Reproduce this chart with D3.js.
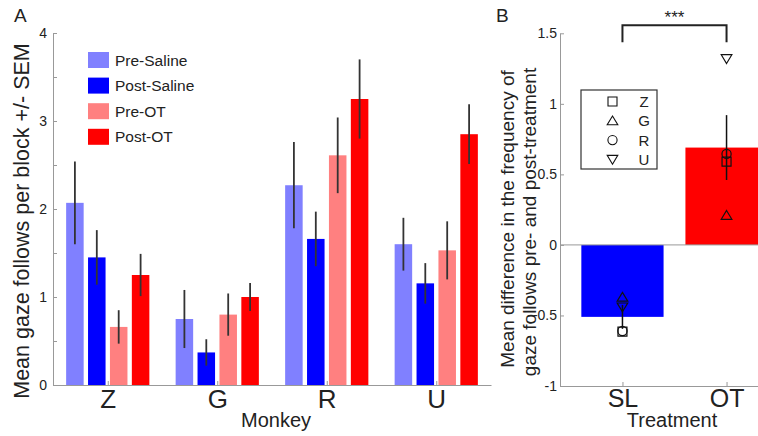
<!DOCTYPE html>
<html>
<head>
<meta charset="utf-8">
<script src="https://cdn.jsdelivr.net/npm/d3@7"></script>
<style>
  body { margin: 0; background: #fff; }
  svg { display: block; font-family: "Liberation Sans", Arial, sans-serif; }
  .axis path, .axis line { stroke: #999; }
  .axis text { fill: #222; }
</style>
</head>
<body>
<div id="chart"></div>
<script>
// Panel A data
const monkeys = ["Z", "G", "R", "U"];
const conditions = ["Pre-Saline", "Post-Saline", "Pre-OT", "Post-OT"];
const colors = ["#8080ff", "#0000ff", "#ff8080", "#ff0000"];
const preSaline = [2.07, 0.75, 2.27, 1.60];
const preSalineSem = [0.47, 0.33, 0.49, 0.30];
const postSaline = [1.45, 0.37, 1.66, 1.155];
const postSalineSem = [0.31, 0.15, 0.31, 0.23];
const preOT = [0.66, 0.80, 2.61, 1.53];
const preOTSem = [0.19, 0.24, 0.43, 0.33];
const postOT = [1.25, 1.00, 3.25, 2.85];
const postOTSem = [0.24, 0.16, 0.45, 0.34];
const yTicksA = [0, 0.5, 1, 1.5, 2, 2.5, 3, 3.5, 4];

// Panel B data
const treatments = ["SL", "OT"];
const diffMean = [-0.51, 0.69];
const diffSem = [0.085, 0.23];
const diffZ = [-0.615, 0.59];
const diffG = [-0.37, 0.21];
const diffR = [-0.61, 0.645];
const diffU = [-0.44, 1.32];
const yTicksB = [-1, -0.5, 0, 0.5, 1, 1.5];

const W = 758, H = 436;
const svg = d3.select("#chart").append("svg")
    .attr("width", W).attr("height", H);

// ---------- Panel A ----------
const xA = d3.scaleLinear().domain([0.5, 4.5]).range([53, 491]);
const yA = d3.scaleLinear().domain([0, 4]).range([385, 33]);
const seriesA = [
    { vals: preSaline, sem: preSalineSem },
    { vals: postSaline, sem: postSalineSem },
    { vals: preOT, sem: preOTSem },
    { vals: postOT, sem: postOTSem }
];
const offset = [-0.3, -0.1, 0.1, 0.3].map(d => d * 1.0);
const step = 0.2, barW = 0.16;

const barsA = [];
seriesA.forEach((s, si) => {
    s.vals.forEach((v, mi) => {
        barsA.push({ m: mi + 1 + (si - 1.5) * step, v: v, e: s.sem[mi], c: colors[si] });
    });
});

const gA = svg.append("g");

gA.selectAll("rect.bar").data(barsA).enter().append("rect")
    .attr("class", "bar")
    .attr("x", d => xA(d.m - barW / 2))
    .attr("width", xA(barW) - xA(0))
    .attr("y", d => yA(d.v))
    .attr("height", d => yA(0) - yA(d.v))
    .attr("fill", d => d.c);

gA.selectAll("line.err").data(barsA).enter().append("line")
    .attr("class", "err")
    .attr("x1", d => xA(d.m)).attr("x2", d => xA(d.m))
    .attr("y1", d => yA(d.v + d.e)).attr("y2", d => yA(d.v - d.e))
    .attr("stroke", "#333").attr("stroke-width", 1.8);

// axes A
gA.append("g").attr("class", "axis")
    .attr("transform", `translate(${xA.range()[0]},0)`)
    .call(d3.axisLeft(yA).tickValues(yTicksA).tickSizeInner(-4).tickSizeOuter(0).tickPadding(6)
        .tickFormat(d => Number.isInteger(d) ? String(d) : ""))
    .call(g => g.selectAll("text").attr("font-size", 14).attr("font-family", null));

gA.append("g").attr("class", "axis")
    .attr("transform", `translate(0,${yA(0)})`)
    .call(d3.axisBottom(xA).tickValues([1, 2, 3, 4]).tickSizeInner(-4).tickSizeOuter(0).tickPadding(5)
        .tickFormat((d, i) => monkeys[i]))
    .call(g => g.selectAll("text").attr("font-size", 26).attr("font-family", null));

gA.append("text")
    .attr("x", (xA.range()[0] + xA.range()[1]) / 2 + 4).attr("y", 427)
    .attr("text-anchor", "middle").attr("font-size", 20).attr("fill", "#222")
    .text("Monkey");

gA.append("text")
    .attr("transform", "rotate(-90)")
    .attr("x", -221).attr("y", 29)
    .attr("text-anchor", "middle").attr("font-size", 21.5).attr("fill", "#222")
    .text("Mean gaze follows per block +/- SEM");

gA.append("text").attr("x", 14).attr("y", 22).attr("font-size", 19).attr("fill", "#222").text("A");

// legend A
const legA = gA.append("g");
conditions.forEach((c, i) => {
    const cy = 60 + i * 25.6;
    legA.append("rect").attr("x", 88).attr("y", cy - 8).attr("width", 21).attr("height", 16).attr("fill", colors[i]);
    legA.append("text").attr("x", 115).attr("y", cy).attr("dy", "0.36em")
        .attr("font-size", 15.5).attr("fill", "#222").text(c);
});

// ---------- Panel B ----------
const xB = d3.scaleLinear().domain([0.4, 2.6]).range([560, 789]);
const yB = d3.scaleLinear().domain([-1, 1.5]).range([386, 33.3]);
const barWB = 0.79;
const gB = svg.append("g");

const barsB = treatments.map((t, i) => ({ t: i + 1, v: diffMean[i], e: diffSem[i], c: i === 0 ? "#0000ff" : "#ff0000" }));

gB.selectAll("rect").data(barsB).enter().append("rect")
    .attr("x", d => xB(d.t - barWB / 2))
    .attr("width", xB(barWB) - xB(0))
    .attr("y", d => yB(Math.max(0, d.v)))
    .attr("height", d => Math.abs(yB(d.v) - yB(0)))
    .attr("fill", d => d.c);

// zero line
gB.append("line")
    .attr("x1", xB.range()[0]).attr("x2", W)
    .attr("y1", yB(0)).attr("y2", yB(0))
    .attr("stroke", "#999");

gB.append("g").attr("class", "axis")
    .attr("transform", `translate(${xB.range()[0]},0)`)
    .call(d3.axisLeft(yB).tickValues(yTicksB).tickSizeInner(-4).tickSizeOuter(0).tickPadding(3)
        .tickFormat(d => String(d)))
    .call(g => g.selectAll("text").attr("font-size", 14).attr("font-family", null));

gB.append("g").attr("class", "axis")
    .attr("transform", `translate(0,${yB(-1)})`)
    .call(d3.axisBottom(xB).tickValues([1, 2]).tickSizeInner(-4).tickSizeOuter(0).tickPadding(3)
        .tickFormat((d, i) => treatments[i]))
    .call(g => g.selectAll("text").attr("font-size", 25).attr("font-family", null));

gB.selectAll("line.errB").data(barsB).enter().append("line")
    .attr("class", "errB")
    .attr("x1", d => xB(d.t)).attr("x2", d => xB(d.t))
    .attr("y1", d => yB(d.v + d.e)).attr("y2", d => yB(d.v - d.e))
    .attr("stroke", "#111").attr("stroke-width", 1.5);

// marker shapes
const shapes = {
    square: "M-4.5,-4.5H4.5V4.5H-4.5Z",
    up: "M0,-4.8L5.3,4L-5.3,4Z",
    circle: "M4.6,0A4.6,4.6 0 1,1 -4.6,0A4.6,4.6 0 1,1 4.6,0Z",
    down: "M0,4.8L5.3,-4L-5.3,-4Z"
};
const individuals = [
    { name: "Z", shape: "square", vals: diffZ },
    { name: "G", shape: "up", vals: diffG },
    { name: "R", shape: "circle", vals: diffR },
    { name: "U", shape: "down", vals: diffU }
];
const pts = [];
individuals.forEach(ind => ind.vals.forEach((v, i) => pts.push({ t: i + 1, v: v, shape: ind.shape })));
gB.selectAll("path.pt").data(pts).enter().append("path")
    .attr("class", "pt")
    .attr("transform", d => `translate(${xB(d.t)},${yB(d.v)})`)
    .attr("d", d => shapes[d.shape])
    .attr("fill", "none").attr("stroke", "#111").attr("stroke-width", 1.2);

// legend B
const legB = gB.append("g");
legB.append("rect").attr("x", 581).attr("y", 90).attr("width", 76).attr("height", 79)
    .attr("fill", "#fff").attr("stroke", "#333").attr("stroke-width", 1.2);
individuals.forEach((ind, i) => {
    const cy = 101.5 + i * 19.3;
    legB.append("path").attr("transform", `translate(612.5,${cy})`).attr("d", shapes[ind.shape])
        .attr("fill", "none").attr("stroke", "#111").attr("stroke-width", 1.1);
    legB.append("text").attr("x", 644).attr("y", cy).attr("dy", "0.36em").attr("text-anchor", "middle")
        .attr("font-size", 15).attr("fill", "#222").text(ind.name);
});

// significance bracket
const bTop = yB(1.5) - 8, bBot = yB(1.5) + 9;
gB.append("path")
    .attr("d", `M${xB(1)},${bBot}V${bTop}H${xB(2)}V${bBot}`)
    .attr("fill", "none").attr("stroke", "#222").attr("stroke-width", 2);
gB.append("text").attr("x", (xB(1) + xB(2)) / 2).attr("y", bTop - 2)
    .attr("text-anchor", "middle").attr("font-size", 17).attr("fill", "#222").text("***");

gB.append("text")
    .attr("transform", "rotate(-90)")
    .attr("x", -219).attr("y", 514)
    .attr("text-anchor", "middle").attr("font-size", 19).attr("fill", "#222")
    .text("Mean difference in the frequency of");
gB.append("text")
    .attr("transform", "rotate(-90)")
    .attr("x", -222).attr("y", 536)
    .attr("text-anchor", "middle").attr("font-size", 19).attr("fill", "#222")
    .text("gaze follows pre- and post-treatment");

gB.append("text")
    .attr("x", 672).attr("y", 427)
    .attr("text-anchor", "middle").attr("font-size", 20).attr("fill", "#222")
    .text("Treatment");

gB.append("text").attr("x", 496).attr("y", 22).attr("font-size", 19).attr("fill", "#222").text("B");
</script>
</body>
</html>
